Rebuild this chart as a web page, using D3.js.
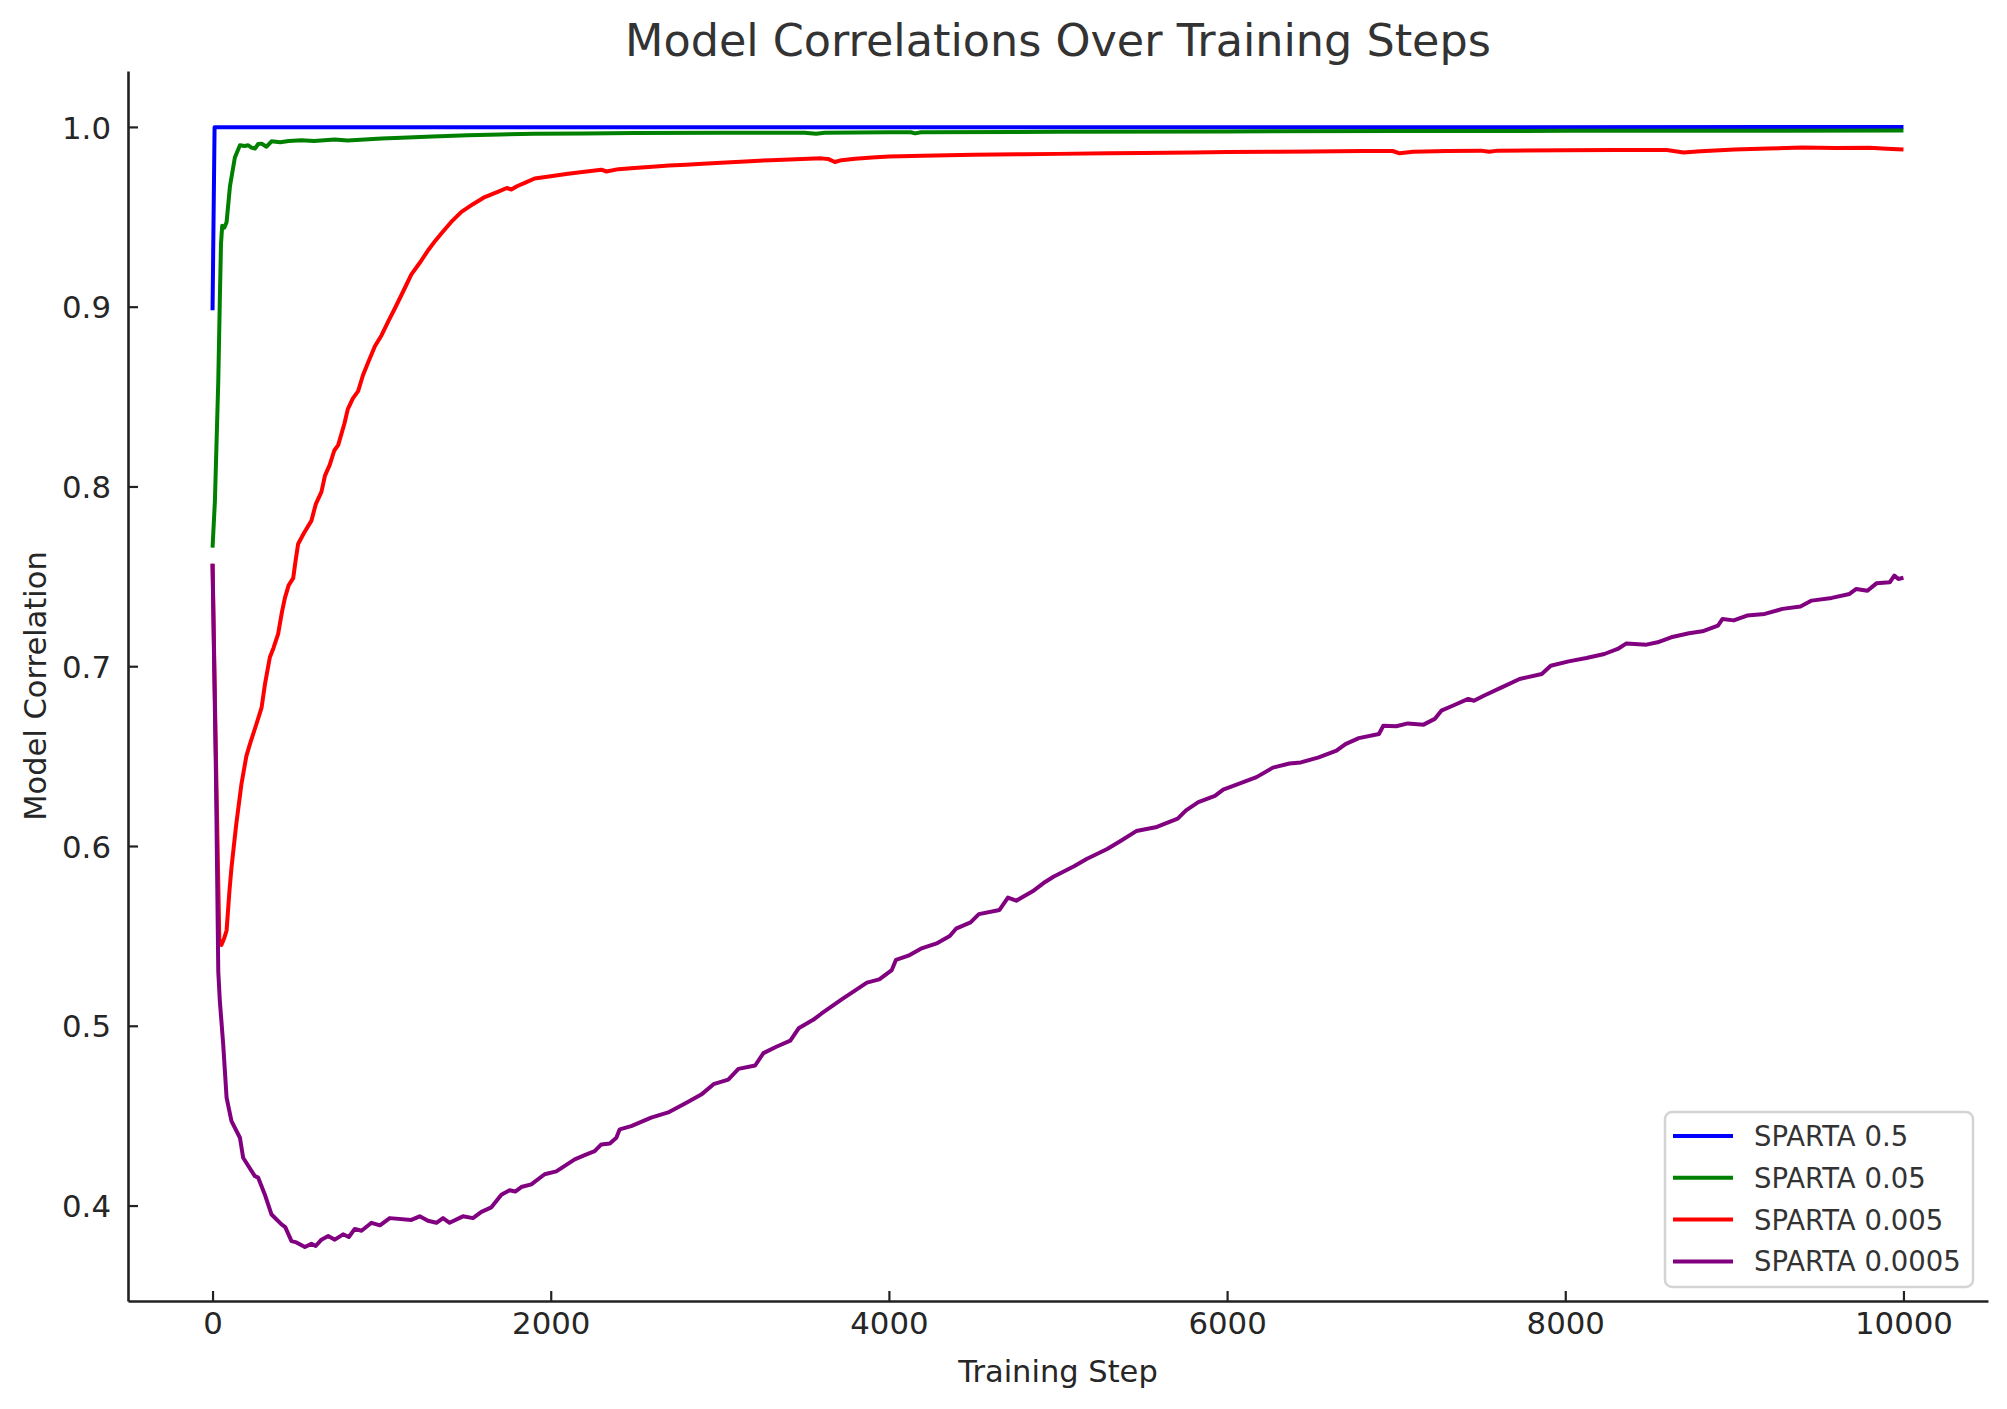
<!DOCTYPE html>
<html>
<head>
<meta charset="utf-8">
<script src="https://cdn.jsdelivr.net/npm/d3@7"></script>
<style>
  html, body { margin: 0; padding: 0; background: #fff; }
  svg { display: block; font-family: "DejaVu Sans", sans-serif; }
</style>
</head>
<body>
<svg id="chart" width="2007" height="1409"></svg>
<script>
// ---------------- DATA ----------------
const chartTitle = "Model Correlations Over Training Steps";
const xLabel = "Training Step";
const yLabel = "Model Correlation";
const seriesNames = ["SPARTA 0.5", "SPARTA 0.05", "SPARTA 0.005", "SPARTA 0.0005"];
const seriesColors = ["#0000ff", "#008000", "#ff0000", "#800080"];
const xTicks = [0, 2000, 4000, 6000, 8000, 10000];
const yTicks = [0.4, 0.5, 0.6, 0.7, 0.8, 0.9, 1.0];

// [training step, correlation]
const sparta05 = [[0, 0.898], [12, 0.9998], [10000, 0.9999]];

const sparta005 = [
  [0, 0.766], [14, 0.792], [34, 0.859], [43, 0.9035], [50, 0.935], [57, 0.945], [70, 0.944],
  [83, 0.947], [103, 0.967], [132, 0.983], [162, 0.9898], [190, 0.9894], [211, 0.9898],
  [230, 0.9885], [251, 0.988], [270, 0.9905], [290, 0.9907], [305, 0.9898], [319, 0.989],
  [349, 0.992], [400, 0.9915], [450, 0.9922], [526, 0.9926], [600, 0.9922], [722, 0.993],
  [800, 0.9925], [900, 0.993], [1000, 0.9935], [1117, 0.994], [1300, 0.9946], [1511, 0.9954],
  [1700, 0.9958], [1905, 0.9962], [2200, 0.9964], [2494, 0.9966], [3008, 0.9967],
  [3500, 0.9968], [3570, 0.9962], [3620, 0.9968], [4000, 0.997], [4130, 0.997],
  [4155, 0.9964], [4190, 0.997], [5000, 0.9973], [6000, 0.9975], [7000, 0.9977],
  [8000, 0.9978], [9000, 0.9979], [10000, 0.998]
];

const sparta0005 = [
  [0, 0.757], [20, 0.65], [40, 0.548], [53, 0.545], [70, 0.549], [83, 0.553], [100, 0.575],
  [112, 0.588], [140, 0.612], [171, 0.6345], [200, 0.65], [221, 0.6567], [260, 0.668],
  [290, 0.677], [310, 0.69], [339, 0.705], [360, 0.71], [388, 0.718], [410, 0.73],
  [428, 0.738], [450, 0.745], [477, 0.749], [490, 0.758], [506, 0.768], [540, 0.774],
  [585, 0.781], [610, 0.79], [644, 0.797], [665, 0.806], [693, 0.812], [720, 0.82],
  [743, 0.823], [780, 0.835], [800, 0.843], [830, 0.849], [861, 0.853], [890, 0.862],
  [920, 0.869], [960, 0.878], [999, 0.884], [1040, 0.892], [1078, 0.899], [1130, 0.909],
  [1176, 0.918], [1230, 0.925], [1275, 0.9314], [1320, 0.937], [1353, 0.9407],
  [1410, 0.947], [1472, 0.9527], [1540, 0.957], [1610, 0.961], [1690, 0.964],
  [1740, 0.966], [1767, 0.9652], [1800, 0.967], [1850, 0.969], [1905, 0.9713],
  [2000, 0.9725], [2102, 0.974], [2200, 0.975], [2299, 0.9762], [2330, 0.9752],
  [2400, 0.9765], [2494, 0.9772], [2600, 0.9778], [2700, 0.9785], [2800, 0.979],
  [2900, 0.9795], [3008, 0.98], [3150, 0.9808], [3300, 0.9815], [3450, 0.982],
  [3600, 0.9825], [3640, 0.9822], [3680, 0.9805], [3720, 0.9815], [3800, 0.9823],
  [3900, 0.983], [4000, 0.9835], [4200, 0.984], [4500, 0.9845], [4800, 0.9848],
  [5000, 0.985], [5300, 0.9853], [5500, 0.9855], [5800, 0.9857], [6000, 0.986],
  [6300, 0.9862], [6500, 0.9863], [6800, 0.9866], [6980, 0.9866], [7020, 0.9853],
  [7100, 0.9862], [7300, 0.9866], [7500, 0.9868], [7550, 0.9862], [7600, 0.9868],
  [8000, 0.987], [8300, 0.9872], [8600, 0.9871], [8700, 0.9858], [8800, 0.9865],
  [9000, 0.9875], [9200, 0.988], [9400, 0.9885], [9600, 0.9882], [9800, 0.9884],
  [9900, 0.9878], [10000, 0.9874]
];

const sparta00005 = [
  [0, 0.757], [20, 0.64], [34, 0.53], [43, 0.514], [63, 0.4897], [83, 0.46], [112, 0.447],
  [162, 0.4377], [181, 0.4266], [250, 0.4164], [270, 0.4155], [309, 0.4062], [349, 0.395],
  [408, 0.3895], [430, 0.388], [467, 0.3802], [496, 0.3795], [546, 0.3769], [585, 0.3787],
  [610, 0.3775], [644, 0.381], [684, 0.383], [723, 0.381], [772, 0.384], [806, 0.3825],
  [841, 0.387], [881, 0.386], [940, 0.3904], [990, 0.389], [1048, 0.393], [1176, 0.392],
  [1225, 0.394], [1274, 0.3915], [1324, 0.3904], [1363, 0.393], [1402, 0.3904],
  [1481, 0.394], [1540, 0.393], [1590, 0.3965], [1649, 0.399], [1708, 0.406],
  [1757, 0.4085], [1790, 0.4078], [1826, 0.4103], [1885, 0.4118], [1964, 0.4174],
  [2033, 0.419], [2142, 0.4257], [2201, 0.428], [2260, 0.4303], [2299, 0.434],
  [2350, 0.4345], [2388, 0.4377], [2408, 0.4424], [2476, 0.4442], [2594, 0.4489],
  [2700, 0.452], [2800, 0.457], [2890, 0.4617], [2963, 0.4675], [3050, 0.47],
  [3110, 0.476], [3209, 0.4779], [3258, 0.4848], [3331, 0.4882], [3417, 0.4917],
  [3466, 0.4986], [3552, 0.5033], [3600, 0.5067], [3723, 0.5148], [3870, 0.524],
  [3943, 0.5258], [4017, 0.531], [4042, 0.5367], [4115, 0.539], [4189, 0.5429],
  [4287, 0.546], [4360, 0.5499], [4397, 0.554], [4483, 0.5575], [4532, 0.5621],
  [4654, 0.5644], [4704, 0.5713], [4753, 0.5696], [4850, 0.5748], [4924, 0.58],
  [4973, 0.5829], [5095, 0.5887], [5169, 0.5928], [5291, 0.5983], [5365, 0.6025],
  [5463, 0.6083], [5585, 0.6106], [5708, 0.6152], [5757, 0.6198], [5830, 0.6244],
  [5928, 0.6279], [5977, 0.6314], [6076, 0.6348], [6174, 0.6383], [6271, 0.6436],
  [6369, 0.6459], [6436, 0.6465], [6542, 0.6493], [6647, 0.653], [6700, 0.6567],
  [6779, 0.66], [6898, 0.6623], [6924, 0.6669], [7000, 0.6666], [7069, 0.6682],
  [7162, 0.6675], [7228, 0.6707], [7267, 0.6753], [7334, 0.678], [7426, 0.6818],
  [7460, 0.6808], [7518, 0.6836], [7624, 0.6882], [7730, 0.6929], [7861, 0.6957],
  [7914, 0.7003], [8020, 0.7027], [8125, 0.7046], [8231, 0.7068], [8310, 0.7096],
  [8362, 0.7127], [8480, 0.712], [8546, 0.7133], [8626, 0.7161], [8732, 0.7183],
  [8811, 0.7194], [8903, 0.7226], [8930, 0.7263], [8996, 0.7255], [9075, 0.7282],
  [9180, 0.7291], [9285, 0.7319], [9391, 0.7332], [9457, 0.7365], [9576, 0.738],
  [9681, 0.7402], [9721, 0.743], [9787, 0.742], [9840, 0.7461], [9919, 0.7467],
  [9946, 0.7504], [9970, 0.7485], [10000, 0.7492]
];

const allSeries = [sparta05, sparta005, sparta0005, sparta00005];

// ---------------- LAYOUT ----------------
const svg = d3.select("#chart");
const plot = { left: 128, right: 1988, top: 71, bottom: 1301 };

const x = d3.scaleLinear().domain([-500, 10500]).range([plot.left, plot.right]);
const yMin = 0.3469, yMax = 1.0311;
const y = d3.scaleLinear().domain([yMin, yMax]).range([plot.bottom, plot.top]);

const tickColor = "#222222";
const textColor = "#262626";

// Title
svg.append("text")
  .attr("x", (plot.left + plot.right) / 2)
  .attr("y", 56)
  .attr("text-anchor", "middle")
  .attr("fill", "#333333")
  .style("font-size", "44.5px")
  .text(chartTitle);

// Axes (ticks pointing inward, like the reference)
const xAxis = d3.axisBottom(x).tickValues(xTicks).tickFormat(d3.format("d")).tickSizeInner(-10).tickSizeOuter(0).tickPadding(11);
const yAxis = d3.axisLeft(y).tickValues(yTicks).tickFormat(d3.format(".1f")).tickSizeInner(-10).tickSizeOuter(0).tickPadding(17);

const gx = svg.append("g").attr("transform", `translate(0,${plot.bottom})`).call(xAxis);
const gy = svg.append("g").attr("transform", `translate(${plot.left},0)`).call(yAxis);

[gx, gy].forEach(g => {
  g.select(".domain").attr("stroke", tickColor).attr("stroke-width", 2.6);
  g.selectAll(".tick line").attr("stroke", tickColor).attr("stroke-width", 2.2);
  g.selectAll(".tick text").attr("fill", textColor)
    .style("font-family", "'DejaVu Sans', sans-serif").style("font-size", "30.8px");
});
gx.selectAll(".tick text").attr("dy", "0.71em");
gy.selectAll(".tick text").attr("dy", "0.36em");

// Axis labels
svg.append("text")
  .attr("x", (plot.left + plot.right) / 2)
  .attr("y", 1382)
  .attr("text-anchor", "middle")
  .attr("fill", textColor)
  .style("font-size", "30.5px")
  .text(xLabel);

svg.append("text")
  .attr("transform", `translate(46,${(plot.top + plot.bottom) / 2}) rotate(-90)`)
  .attr("text-anchor", "middle")
  .attr("fill", textColor)
  .style("font-size", "30.5px")
  .text(yLabel);

// Lines
const line = d3.line().x(d => x(d[0])).y(d => y(d[1]));
const linesG = svg.append("g");
allSeries.forEach((s, i) => {
  linesG.append("path")
    .datum(s)
    .attr("fill", "none")
    .attr("stroke", seriesColors[i])
    .attr("stroke-width", 4)
    .attr("stroke-linejoin", "round")
    .attr("d", line);
});

// Legend
const legend = { x: 1665, y: 1112, w: 308, h: 175 };
svg.append("rect")
  .attr("x", legend.x).attr("y", legend.y)
  .attr("width", legend.w).attr("height", legend.h)
  .attr("rx", 7).attr("ry", 7)
  .attr("fill", "#ffffff").attr("fill-opacity", 0.8)
  .attr("stroke", "#d4d4d4").attr("stroke-width", 2.5);

seriesNames.forEach((name, i) => {
  const cy = 1136 + i * 41.8;
  svg.append("line")
    .attr("x1", 1673).attr("x2", 1733)
    .attr("y1", cy).attr("y2", cy)
    .attr("stroke", seriesColors[i]).attr("stroke-width", 4);
  svg.append("text")
    .attr("x", 1754).attr("y", cy)
    .attr("dy", "0.36em")
    .attr("fill", "#333333")
    .style("font-size", "27.5px")
    .text(name);
});
</script>
</body>
</html>
